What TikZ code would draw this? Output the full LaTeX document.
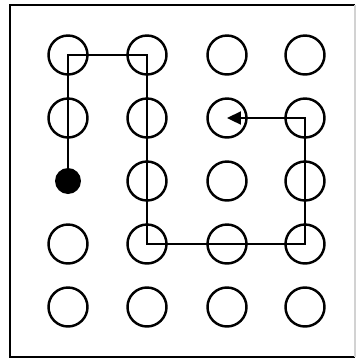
\documentclass[tikz,border=0pt]{standalone}
\usetikzlibrary{arrows.meta}

\begin{document}
\begin{tikzpicture}[x=0.02cm,y=-0.02cm]
    \tikzset{spot/.style={circle,draw,line width=1.4pt,minimum size=0.78cm,inner sep=0pt},
      start/.style={circle,fill,minimum size=0.52cm,inner sep=0pt},
      trail/.style={line width=1.3pt,-{Triangle[length=0.28cm,width=0.26cm]}}}
    \useasboundingbox (0,0) rectangle (359,360);

    % frame
    \draw[line width=1.4pt] (355,5) -- (10,5) -- (10,357) -- (355,357);
    \draw[gray!35,line width=0.8pt] (355,5) -- (355,357);

    % grid of spots
    \foreach \x/\i in {68/1,147/2,227/3,305/4}{
      \foreach \y/\j in {55/1,118/2,181/3,244/4,307/5}{
        \coordinate (p-\i-\j) at (\x,\y);
      }
    }
    \foreach \i in {1,...,4}{\foreach \j in {1,...,5}{
      \ifnum\i\j=13 \else \node[spot] (c-\i-\j) at (p-\i-\j) {};\fi
    }}
    \node[start] (c-1-3) at (p-1-3) {};

    % route
    \draw[trail] (c-1-3.center) -- (c-1-1.center) -- (c-2-1.center) -- (c-2-4.center)
      -- (c-4-4.center) -- (c-4-2.center) -- (c-3-2.center);
  \end{tikzpicture}
\end{document}
